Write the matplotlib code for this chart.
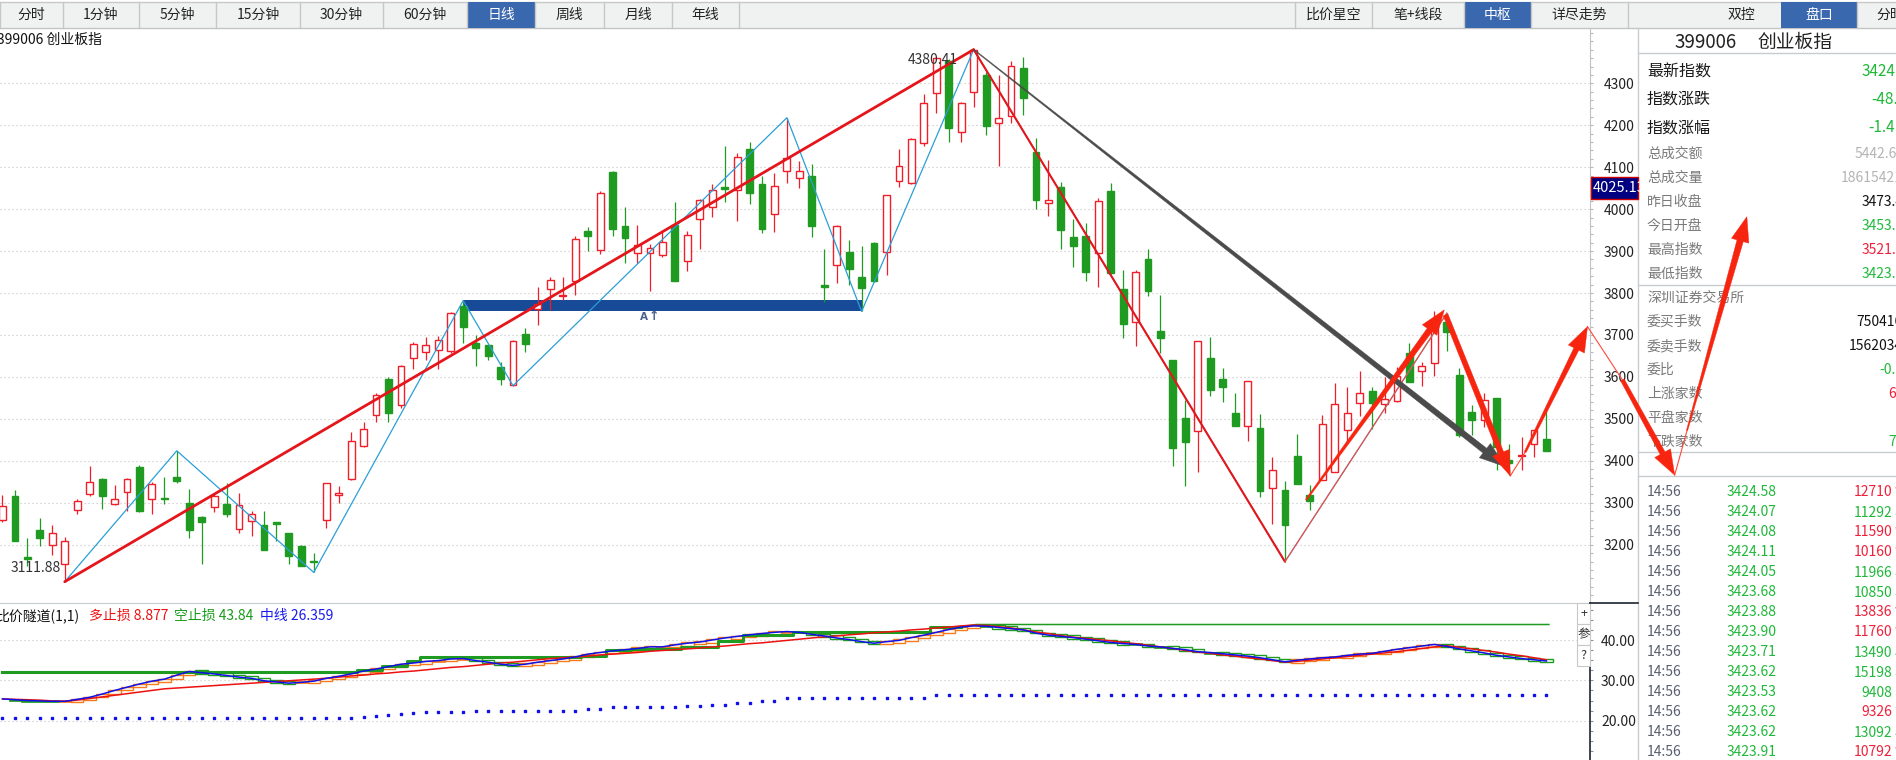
import numpy as np
import matplotlib
matplotlib.use("Agg")
import matplotlib.pyplot as plt
from matplotlib.patches import Rectangle, Polygon
from matplotlib.ticker import MultipleLocator, FixedLocator

plt.rcParams['font.family'] = ['Noto Sans CJK SC', 'DejaVu Sans']
plt.rcParams['axes.unicode_minus'] = False

# ===== daily candles of 399006 =====
opens = [3259, 3317, 3171, 3236, 3199, 3154, 3282, 3320, 3356, 3297,
         3325, 3386, 3308, 3312, 3361, 3300, 3267, 3290, 3297, 3237,
         3257, 3247, 3255, 3228, 3197, 3162, 3259, 3319, 3356, 3435,
         3510, 3596, 3533, 3645, 3660, 3665, 3662, 3770, 3682, 3676,
         3624, 3581, 3702, 3762, 3810, 3794, 3829, 3947, 3903, 4088,
         3959, 3896, 3896, 3891, 3963, 3877, 3977, 4005, 4053, 4045,
         4143, 4059, 3989, 4092, 4075, 4080, 3820, 3867, 3899, 3839,
         3920, 3897, 4068, 4063, 4157, 4276, 4352, 4185, 4280, 4320,
         4205, 4222, 4336, 4136, 4014, 4052, 3933, 3935, 3895, 4044,
         3810, 3730, 3880, 3710, 3641, 3502, 3471, 3646, 3595, 3514,
         3482, 3479, 3335, 3330, 3412, 3319, 3354, 3373, 3474, 3538,
         3567, 3536, 3543, 3656, 3613, 3634, 3732, 3605, 3517, 3498,
         3550, 3402, 3412, 3440, 3453.1]
highs = [3319, 3331, 3216, 3264, 3247, 3219, 3309, 3388, 3360, 3343,
         3360, 3391, 3349, 3362, 3424, 3333, 3269, 3324, 3348, 3324,
         3281, 3281, 3255, 3228, 3199, 3181, 3348, 3341, 3469, 3493,
         3562, 3600, 3628, 3684, 3696, 3697, 3755, 3782, 3700, 3676,
         3635, 3689, 3716, 3815, 3839, 3839, 3937, 3957, 4043, 4090,
         4005, 3961, 3917, 3945, 4018, 3949, 4025, 4059, 4150, 4135,
         4159, 4078, 4086, 4218, 4114, 4107, 3904, 3963, 3927, 3911,
         3922, 4034, 4143, 4170, 4274, 4363, 4357, 4256, 4380.41, 4328,
         4320, 4354, 4362, 4169, 4117, 4064, 3977, 3967, 4026, 4063,
         3856, 3856, 3905, 3796, 3641, 3544, 3686, 3696, 3622, 3561,
         3590, 3512, 3410, 3353, 3464, 3343, 3510, 3585, 3575, 3615,
         3575, 3601, 3623, 3681, 3635, 3758, 3752, 3621, 3532, 3562,
         3550, 3440, 3456, 3474, 3521.4]
lows = [3255, 3208, 3149, 3196, 3176, 3111.88, 3273, 3317, 3286, 3294,
        3281, 3279, 3273, 3297, 3348, 3215, 3155, 3277, 3265, 3228,
        3221, 3187, 3209, 3155, 3150, 3134, 3241, 3300, 3354, 3432,
        3492, 3492, 3527, 3619, 3641, 3619, 3658, 3682, 3625, 3641,
        3581, 3579, 3660, 3724, 3759, 3784, 3796, 3900, 3892, 3937,
        3871, 3871, 3806, 3885, 3828, 3853, 3904, 3982, 4017, 3971,
        4012, 3943, 3945, 4062, 4050, 3933, 3778, 3823, 3819, 3756,
        3826, 3843, 4053, 4059, 4151, 4230, 4161, 4161, 4243, 4177,
        4104, 4206, 4225, 4001, 3984, 3906, 3863, 3828, 3814, 3846,
        3692, 3673, 3794, 3657, 3387, 3339, 3373, 3554, 3540, 3482,
        3447, 3313, 3249, 3158, 3345, 3283, 3354, 3373, 3442, 3506,
        3476, 3514, 3541, 3587, 3578, 3602, 3663, 3456, 3462, 3480,
        3378, 3366, 3378, 3408, 3423.5]
closes = [3292, 3209, 3165, 3217, 3228, 3209, 3304, 3349, 3317, 3308,
          3356, 3281, 3345, 3310, 3353, 3236, 3254, 3316, 3273, 3294,
          3273, 3187, 3249, 3173, 3150, 3160, 3348, 3324, 3447, 3476,
          3557, 3515, 3626, 3678, 3676, 3688, 3752, 3720, 3668, 3649,
          3596, 3686, 3678, 3775, 3831, 3796, 3929, 3935, 4039, 3952,
          3931, 3915, 3908, 3922, 3829, 3939, 4021, 4045, 4048, 4124,
          4038, 3952, 4056, 4123, 4090, 3959, 3814, 3960, 3857, 3811,
          3829, 4034, 4104, 4168, 4252, 4360, 4194, 4252, 4379, 4197,
          4217, 4342, 4264, 4021, 4022, 3951, 3911, 3849, 4020, 3848,
          3725, 3851, 3806, 3692, 3431, 3444, 3686, 3569, 3575, 3482,
          3590, 3327, 3378, 3247, 3345, 3305, 3488, 3535, 3514, 3562,
          3537, 3547, 3603, 3587, 3625, 3732, 3706, 3462, 3497, 3545,
          3432, 3396, 3415, 3474, 3424.58]

# 笔 (thin blue zigzag) and 线段 (red) vertices: candle index / price
bi_idx = [5, 14, 25, 37, 41, 63, 69, 78, 103, 116]
bi_val = [3111.88, 3424, 3134, 3782, 3579, 4218, 3756, 4380.41, 3159.6, 3752]
seg_idx = [5, 78, 103]
seg_val = [3111.88, 4380.41, 3159.6]
# 中枢 box
zs_start, zs_end = 37, 69
zs_low, zs_high = 3756, 3783

# hand drawn arrows (candle index, price)
gray_arrow = [(78, 4380.41), (120.7, 3386)]
red_arrows = [[(104.7, 3307), (115.8, 3760)],
              [(115.9, 3748), (121.1, 3364)],
              [(122.3, 3421), (127.3, 3720)],
              [(130.1, 3593), (134.3, 3366)],
              [(135.3, 3473), (140.1, 3982)]]
red_arrow_w = [(1.5, 6.0), (5.0, 5.5), (2.0, 5.5), (4.0, 5.5), (1.2, 6.5)]
red_thin = [[(103, 3159.6), (116, 3752)],
            [(121.1, 3364), (122.3, 3421)],
            [(127.3, 3720), (130.1, 3593)],
            [(134.3, 3366), (135.3, 3473)]]

# ===== 比价隧道 indicator =====
ratio_close = [25.4, 25.2, 25.0, 24.9, 24.8, 24.8, 25.3, 25.8, 26.6, 27.5,
               28.3, 29.1, 29.8, 30.3, 31.3, 32.2, 31.9, 31.6, 31.2, 30.8,
               30.5, 29.9, 29.6, 29.3, 29.5, 29.8, 30.5, 31.0, 31.6, 32.3,
               32.8, 33.4, 34.0, 34.3, 34.7, 34.9, 35.3, 35.4, 34.9, 34.5,
               34.0, 33.7, 34.0, 34.5, 34.9, 35.3, 35.8, 36.5, 36.9, 37.3,
               37.6, 37.9, 38.3, 38.3, 38.8, 39.2, 39.5, 40.0, 40.5, 40.9,
               41.3, 41.6, 41.9, 42.1, 41.9, 41.4, 41.0, 40.5, 40.1, 39.6,
               39.2, 39.6, 39.9, 40.6, 41.2, 41.9, 42.6, 43.2, 43.5, 43.4,
               43.1, 42.8, 42.5, 41.7, 41.2, 40.9, 40.6, 40.2, 39.8, 39.4,
               39.1, 38.9, 38.5, 38.3, 37.9, 37.6, 37.1, 36.9, 36.6, 36.3,
               36.0, 35.6, 35.1, 34.6, 35.0, 35.3, 35.6, 35.8, 36.2, 36.5,
               36.7, 37.2, 37.7, 38.1, 38.5, 38.9, 38.4, 37.8, 37.3, 36.8,
               36.2, 35.8, 35.4, 35.1, 34.8]
ratio_ma = [25.4, 25.3, 25.2, 25.1, 24.9, 24.8, 25.1, 25.5, 25.9, 26.3,
            26.7, 27.1, 27.5, 27.9, 28.1, 28.3, 28.5, 28.7, 28.9, 29.1,
            29.3, 29.5, 29.7, 29.9, 30.1, 30.3, 30.5, 30.8, 31.1, 31.3,
            31.6, 31.8, 32.1, 32.3, 32.6, 32.9, 33.2, 33.4, 33.7, 34.0,
            34.3, 34.5, 34.8, 35.1, 35.4, 35.6, 35.8, 36.0, 36.3, 36.5,
            36.7, 36.9, 37.2, 37.4, 37.6, 37.8, 38.0, 38.3, 38.5, 38.8,
            39.1, 39.3, 39.6, 39.9, 40.2, 40.5, 40.8, 41.0, 41.3, 41.5,
            41.8, 42.0, 42.2, 42.5, 42.7, 43.0, 43.2, 43.5, 43.7, 43.6,
            43.3, 43.0, 42.5, 42.0, 41.6, 41.1, 40.7, 40.4, 40.1, 39.8,
            39.4, 39.1, 38.7, 38.3, 37.9, 37.4, 37.0, 36.7, 36.3, 36.0,
            35.6, 35.3, 34.9, 34.5, 34.7, 35.0, 35.3, 35.6, 35.9, 36.2,
            36.5, 36.8, 37.1, 37.5, 37.9, 38.3, 38.6, 38.2, 37.8, 37.4,
            37.0, 36.5, 36.1, 35.6, 35.1]
short_stop = ([32.0] * 29 + [32.6] * 2 + [33.6] * 2 + [34.9] + [35.7] * 13
              + [36.1] * 2 + [37.4] * 2 + [37.8] * 4 + [38.2] * 3 + [39.8] * 2
              + [41.2] * 4 + [42.1] * 11 + [43.3] * 3 + [43.84] * 47)
mid_line = ([20.6] * 29 + [20.9, 21.1, 21.4, 21.7, 21.9] + [22.1] * 4
            + [22.5] * 9 + [23.0] * 2 + [23.3] * 6 + [23.6] * 2 + [24.0] * 2
            + [24.5] * 2 + [25.0] * 2 + [25.7] * 12 + [26.36] * 50)
thin_stop_from = 77

# ===== UI texts =====
tabs_left = ['分时', '1分钟', '5分钟', '15分钟', '30分钟', '60分钟', '日线', '周线', '月线', '年线']
tabs_left_edges = [0, 63, 139, 216, 300, 383, 467, 535, 604, 672, 739]
tabs_right = ['比价星空', '笔+线段', '中枢', '详尽走势']
tabs_right_edges = [1295, 1372, 1464, 1531, 1628]
tabs_selected = ['日线', '中枢']

panel_labels = ['最新指数', '指数涨跌', '指数涨幅', '总成交额', '总成交量',
                '昨日收盘', '今日开盘', '最高指数', '最低指数']
panel_values = ['3424.58', '-48.83', '-1.41%', '5442.65亿', '18615421',
                '3473.41', '3453.12', '3521.37', '3423.53']
panel_kind = ['down', 'down', 'down', 'dim', 'dim', 'flat', 'down', 'up', 'down']
panel_value_x = [1862, 1871, 1868, 1855, 1841, 1862, 1862, 1862, 1862]
panel_rows_y = [72, 99, 128, 154, 178, 202, 226, 250, 274]

book_labels = ['委买手数', '委卖手数', '委比', '上涨家数', '平盘家数', '下跌家数']
book_values = ['750416', '1562034', '-0.35', '63', '', '72']
book_kind = ['flat', 'flat', 'down', 'up', 'flat', 'down']
book_value_x = [1856, 1849, 1879, 1888, 1888, 1888]
book_rows_y = [322, 346, 370, 394, 418, 442]

tick_prices = ['3424.58', '3424.07', '3424.08', '3424.11', '3424.05', '3423.68', '3423.88',
               '3423.90', '3423.71', '3423.62', '3423.53', '3423.62', '3423.62', '3423.91']
tick_vols = ['12710', '11292', '11590', '10160', '11966', '10850', '13836',
             '11760', '13490', '15198', '9408', '9326', '13092', '10792']
tick_dirs = [1, -1, 1, 1, -1, -1, 1, 1, -1, -1, -1, 1, -1, 1]

last_cross_price = 4025.13

# colours
RED = '#f01e28'
GREEN = '#1f9b22'
TXT_GREEN = '#1fb83a'
TXT_RED = '#f0203a'
BAND = '#174a97'
BI_BLUE = '#2a9fd6'
SEG_RED = '#e4161c'
ARROW_RED = '#f7250f'
ARROW_GRAY = '#4b4b4b'
ORANGE = '#f87a18'
GRID = '#c4c4c4'
kind_color = {'up': TXT_RED, 'down': TXT_GREEN, 'flat': '#111111', 'dim': '#b4b4b4'}

W, H = 1896, 760
fig = plt.figure(figsize=(W / 100, H / 100), dpi=100)
fig.patch.set_facecolor('white')


def rect_px(x0, y0, x1, y1):
    # pixel box (origin top-left) -> figure fraction rect
    return [x0 / W, 1 - y1 / H, (x1 - x0) / W, (y1 - y0) / H]


ax = fig.add_axes(rect_px(0, 28, 1590, 603))
ax_ind = fig.add_axes(rect_px(0, 603, 1590, 760))
ui = fig.add_axes([0, 0, 1, 1], zorder=10)
ui.set_xlim(0, W)
ui.set_ylim(H, 0)
ui.axis('off')
ui.patch.set_alpha(0)

# ===== MAIN K-LINE PANEL =====
o = np.array(opens, float)
hi = np.array(highs, float)
lo = np.array(lows, float)
c = np.array(closes, float)
idx = np.arange(len(c))
up = c >= o
edge = np.where(up, RED, GREEN)
face = np.where(up, 'white', GREEN)

ax.set_xlim(-0.2, 127.5)
ax.set_ylim(3061.1, 4431.8)
price_ticks = list(range(3200, 4400, 100))
for p in price_ticks:
    ax.axhline(p, color=GRID, lw=0.8, ls=(0, (1, 2.6)), zorder=0)

ax.add_patch(Rectangle((zs_start, zs_low), zs_end - zs_start, zs_high - zs_low,
                       facecolor=BAND, edgecolor='none', zorder=2))
ax.vlines(idx, lo, hi, colors=edge, lw=0.9, zorder=3)
body_lo = np.minimum(o, c)
body_h = np.maximum(np.abs(c - o), 1.0)
ax.bar(idx, body_h, bottom=body_lo, width=0.55, color=face, edgecolor=edge,
       linewidth=1.0, zorder=4)

ax.plot(bi_idx, bi_val, color=BI_BLUE, lw=0.9, zorder=5)
ax.plot(seg_idx[:2], seg_val[:2], color=SEG_RED, lw=2.0, zorder=6, solid_capstyle='round')
ax.plot(seg_idx[1:], seg_val[1:], color=SEG_RED, lw=1.5, zorder=6, solid_capstyle='round')

ax.text(bi_idx[7] - 1.3, 4355, f'{bi_val[7]:.2f}', ha='right', va='center',
        fontsize=10, color='#333333', zorder=7)
ax.text(bi_idx[0] - 0.3, 3144, f'{bi_val[0]:.2f}', ha='right', va='center',
        fontsize=10, color='#333333', zorder=7)
ax.text(51.5, 3743, 'A', ha='center', va='center', fontsize=7.5, fontweight='bold',
        color='#4a6290', family=['DejaVu Sans'])
ax.text(52.3, 3743, '↑', ha='center', va='center', fontsize=9, fontweight='bold',
        color='#4a6290', family=['DejaVu Sans'])

for s in ['top', 'left', 'bottom']:
    ax.spines[s].set_visible(False)
ax.spines['right'].set_color('#c0c4c8')
ax.set_xticks([])
ax.yaxis.tick_right()
ax.yaxis.set_major_locator(FixedLocator(price_ticks))
ax.yaxis.set_minor_locator(MultipleLocator(20))
ax.set_yticklabels([str(p) for p in price_ticks])
ax.tick_params(axis='y', which='both', direction='out', length=2.2, width=0.8,
               color='#b4b8bc', labelsize=10, labelcolor='#222222', pad=7.9)

# ===== INDICATOR PANEL =====
ax_ind.set_xlim(-0.2, 127.5)
ax_ind.set_ylim(10.26, 49.17)
for v in [20, 30, 40]:
    ax_ind.axhline(v, color=GRID, lw=0.8, ls=(0, (1, 2.6)), zorder=0)

# small ratio "candles": body spans previous to current ratio value
rc = np.array(ratio_close)
prev = np.concatenate([[rc[0]], rc[:-1]])
diff = rc - prev
for i in range(1, len(rc)):
    col = ORANGE if diff[i] >= 0 else GREEN
    if abs(diff[i]) >= 0.25:
        hgt = max(abs(diff[i]), 0.8)
        mid = (prev[i] + rc[i]) / 2
        ax_ind.bar(i, hgt, bottom=mid - hgt / 2, width=1.0,
                   color='white', edgecolor=col, linewidth=1.0, zorder=2)
    else:
        ax_ind.bar(i, 0.5, bottom=rc[i] - 0.25, width=1.0, color=col,
                   edgecolor=col, linewidth=0.5, zorder=2)

ss = np.array(short_stop)
ax_ind.plot(idx[:thin_stop_from + 1], ss[:thin_stop_from + 1], color=GREEN, lw=2.2,
            drawstyle='steps-mid', zorder=3)
ax_ind.plot(idx[thin_stop_from:] + 0.2, ss[thin_stop_from:], color=GREEN, lw=1.1, zorder=3)
ax_ind.plot(idx, ratio_ma, color='#ee1111', lw=1.1, zorder=4)
ax_ind.plot(idx, ratio_close, color='#1010e8', lw=1.1, zorder=5)
ax_ind.plot(idx, mid_line, ls='none', marker='s', ms=1.7, color='#1010e8', zorder=4)

for s in ['left', 'bottom']:
    ax_ind.spines[s].set_visible(False)
ax_ind.spines['top'].set_color('#c8ccd0')
ax_ind.spines['right'].set_color('#1c2430')
ax_ind.spines['right'].set_linewidth(1.2)
ax_ind.set_xticks([])
ax_ind.yaxis.tick_right()
ind_ticks = [10, 20, 30, 40]
ax_ind.yaxis.set_major_locator(FixedLocator(ind_ticks))
ax_ind.yaxis.set_minor_locator(MultipleLocator(2.5))
ax_ind.set_yticklabels([f'{v:.2f}' for v in ind_ticks])
ax_ind.tick_params(axis='y', which='both', direction='out', length=2.2, width=0.8,
                   color='#8a9098', labelsize=10, labelcolor='#222222', pad=5.8)

# indicator legend
ui.text(-4, 616, '比价隧道(1,1)', fontsize=10, color='#111111', va='center')
ui.text(89, 616, '多止损 8.877', fontsize=10, color='#ee1111', va='center')
ui.text(174, 616, '空止损 43.84', fontsize=10, color='#1a9a1a', va='center')
ui.text(260, 616, '中线 26.359', fontsize=10, color='#1a1aee', va='center')

# small buttons
for k, lab in enumerate(['+', '参', '?']):
    y0 = 603 + 21 * k
    ui.add_patch(Rectangle((1577, y0), 13, 21, facecolor='white', edgecolor='#c8c8c8', lw=0.8, zorder=3))
    ui.text(1583.5, y0 + 10.5, lab, ha='center', va='center', fontsize=9, color='#333333', zorder=4)
ui.plot([1590, 1638], [603, 603], color='#1c2430', lw=1.2, zorder=3)

# ===== TAB BAR =====
ui.add_patch(Rectangle((0, 1.5), W, 26.5, facecolor='#f0f1f1', edgecolor='none', zorder=1))
ui.plot([0, W], [1.5, 1.5], color='#c8c8c8', lw=1, zorder=2)
ui.plot([0, W], [28, 28], color='#c4c4c4', lw=1, zorder=2)


def draw_tabs(labels, edges):
    for k, lab in enumerate(labels):
        x0, x1 = edges[k], edges[k + 1]
        if lab in tabs_selected:
            ui.add_patch(Rectangle((x0, 2), x1 - x0, 26, facecolor='#3a68ae',
                                   edgecolor='none', zorder=2))
            col = 'white'
        else:
            col = '#222222'
        ui.text((x0 + x1) / 2, 15, lab, ha='center', va='center', fontsize=10, color=col, zorder=3)
    for x in edges:
        ui.plot([x, x], [2, 28], color='#c8c8c8', lw=1, zorder=2)


draw_tabs(tabs_left, tabs_left_edges)
draw_tabs(tabs_right, tabs_right_edges)
ui.text(1741, 15, '双控', ha='center', va='center', fontsize=10, color='#222222', zorder=3)
ui.add_patch(Rectangle((1781, 2), 76, 26, facecolor='#3a68ae', edgecolor='none', zorder=2))
ui.text(1819, 15, '盘口', ha='center', va='center', fontsize=10, color='white', zorder=3)
ui.plot([1857, 1857], [2, 28], color='#c8c8c8', lw=1, zorder=2)
ui.text(1876, 15, '分时', ha='left', va='center', fontsize=10, color='#222222', zorder=3)

# chart title
ui.text(-3, 40, '399006 创业板指', fontsize=10, color='#111111', va='center')

# current price box on the axis
y_cross = ui.transData.inverted().transform(ax.transData.transform((0, last_cross_price)))[1]
box = Rectangle((1591, y_cross - 22), 47, 22.6, facecolor='#000080', edgecolor='#cc0000',
                lw=1.0, zorder=5)
ui.add_patch(box)
t = ui.text(1593, y_cross - 10.7, f'{last_cross_price:.2f}', ha='left', va='center',
            fontsize=10.5, color='white', zorder=6)
t.set_clip_path(box)

# ===== RIGHT PANEL =====
ui.plot([1638, 1638], [28, H], color='#c8ccd0', lw=1, zorder=2)
for yy in [53, 285, 452, 476]:
    ui.plot([1638, W], [yy, yy], color='#c8ccd0', lw=1, zorder=2)
ui.text(1674, 42, '399006', fontsize=13.5, color='#222222', va='center')
ui.text(1758, 42, '创业板指', fontsize=13.5, color='#222222', va='center')

for k, lab in enumerate(panel_labels):
    big = k < 3
    ui.text(1647, panel_rows_y[k], lab, fontsize=11.5 if big else 10,
            color='#1a1a1a' if big else '#7a7a7a', va='center')
    ui.text(panel_value_x[k], panel_rows_y[k], panel_values[k], fontsize=11 if big else 10,
            color=kind_color[panel_kind[k]], va='center')
ui.text(1647, 298, '深圳证券交易所', fontsize=10, color='#7a7a7a', va='center')
for k, lab in enumerate(book_labels):
    ui.text(1647, book_rows_y[k], lab, fontsize=10, color='#7a7a7a', va='center')
    ui.text(book_value_x[k], book_rows_y[k], book_values[k], fontsize=10,
            color=kind_color[book_kind[k]], va='center')

for k in range(len(tick_prices)):
    yy = 492 + 20 * k
    ui.text(1647, yy, '14:56', fontsize=10, color='#5a5f70', va='center')
    ui.text(1727, yy, tick_prices[k], fontsize=10, color=TXT_GREEN, va='center')
    vcol = TXT_RED if tick_dirs[k] > 0 else TXT_GREEN
    arrow = '↑' if tick_dirs[k] > 0 else '↓'
    ui.text(1893 - 7.8 * len(tick_vols[k]), yy, tick_vols[k] + arrow, fontsize=10,
            color=vcol, va='center')


# ===== HAND-DRAWN ARROWS =====
def to_ui(pt):
    return ui.transData.inverted().transform(ax.transData.transform(pt))


def taper_arrow(p0, p1, w0, w1, head_w, head_len, color):
    a = to_ui(p0)
    b = to_ui(p1)
    d = b - a
    u = d / np.hypot(*d)
    nrm = np.array([-u[1], u[0]])
    base = b - u * head_len
    pts = [a + nrm * w0 / 2, base + nrm * w1 / 2, base + nrm * head_w / 2, b,
           base - nrm * head_w / 2, base - nrm * w1 / 2, a - nrm * w0 / 2]
    ui.add_patch(Polygon(pts, closed=True, facecolor=color, edgecolor=color,
                         lw=0.3, zorder=20))


for seg in red_thin:
    a, b = to_ui(seg[0]), to_ui(seg[1])
    ui.plot([a[0], b[0]], [a[1], b[1]], color='#ff4a3a', lw=0.8, zorder=19)

taper_arrow(gray_arrow[0], gray_arrow[1], 0.8, 6.0, 18, 26, ARROW_GRAY)
for seg, (w0, w1) in zip(red_arrows, red_arrow_w):
    taper_arrow(seg[0], seg[1], w0, w1, 18, 25, ARROW_RED)

fig.savefig('out.png', dpi=100, facecolor='white')
